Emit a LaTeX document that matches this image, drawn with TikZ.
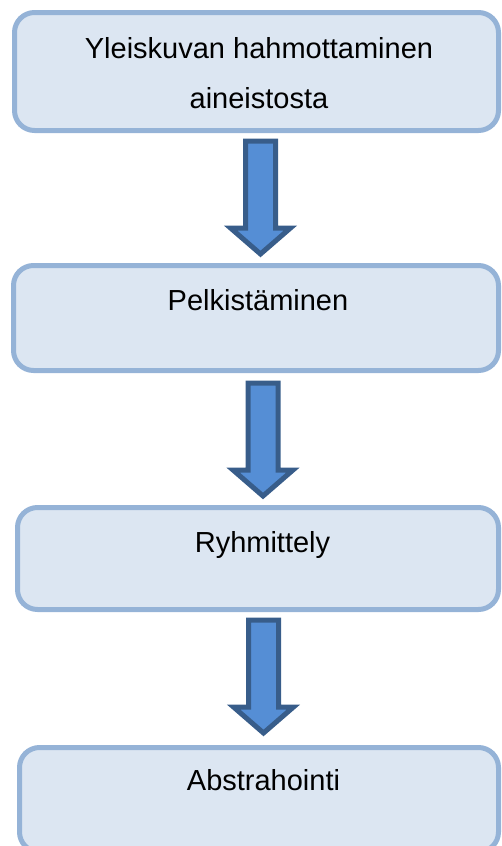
\documentclass[tikz,border=0pt]{standalone}
\usepackage{fontspec}
\setmainfont{Liberation Sans}
\definecolor{boxfill}{HTML}{DCE6F2}
\definecolor{boxline}{HTML}{95B3D7}
\definecolor{arrfill}{HTML}{558ED5}
\definecolor{arrline}{HTML}{385D8A}
\begin{document}
\begin{tikzpicture}[x=1pt,y=-1pt,
  box/.style={draw=boxline, fill=boxfill, line width=5pt, rounded corners=20pt,
    inner sep=0pt, outer sep=0pt},
  lbl/.style={anchor=base, inner sep=0pt, font=\fontsize{29}{34}\selectfont},
  arrowstyle/.style={draw=arrline, fill=arrfill, line width=5pt, line join=miter},
  blockdown/.pic={\draw[arrowstyle] (-15,0) -- (15,0) -- (15,87) -- (30,87)
    -- (0,113) -- (-30,87) -- (-15,87) -- cycle;}]
\useasboundingbox (0,0) rectangle (502,846);
\clip (0,0) rectangle (502,846);
\node[box, minimum width=484pt, minimum height=118pt] (b1) at (256.5,71.5) {};
\node[box, minimum width=485pt, minimum height=105pt] (b2) at (256,318) {};
\node[box, minimum width=481pt, minimum height=102pt] (b3) at (258,558.5) {};
\node[box, minimum width=479pt, minimum height=104.5pt] (b4) at (259,799.75) {};
\node[lbl] (t1a) at (259,58) {Yleiskuvan hahmottaminen};
\node[lbl] (t1b) at (259,108) {aineistosta};
\node[lbl] (t2) at (258,310) {Pelkistäminen};
\node[lbl] (t3) at (262.5,552) {Ryhmittely};
\node[lbl] (t4) at (263.5,790) {Abstrahointi};
\coordinate (a1) at (260.5,141);
\coordinate (a2) at (263,383);
\coordinate (a3) at (263.5,620);
\pic at (a1) {blockdown};
\pic at (a2) {blockdown};
\pic at (a3) {blockdown};
\end{tikzpicture}
\end{document}
